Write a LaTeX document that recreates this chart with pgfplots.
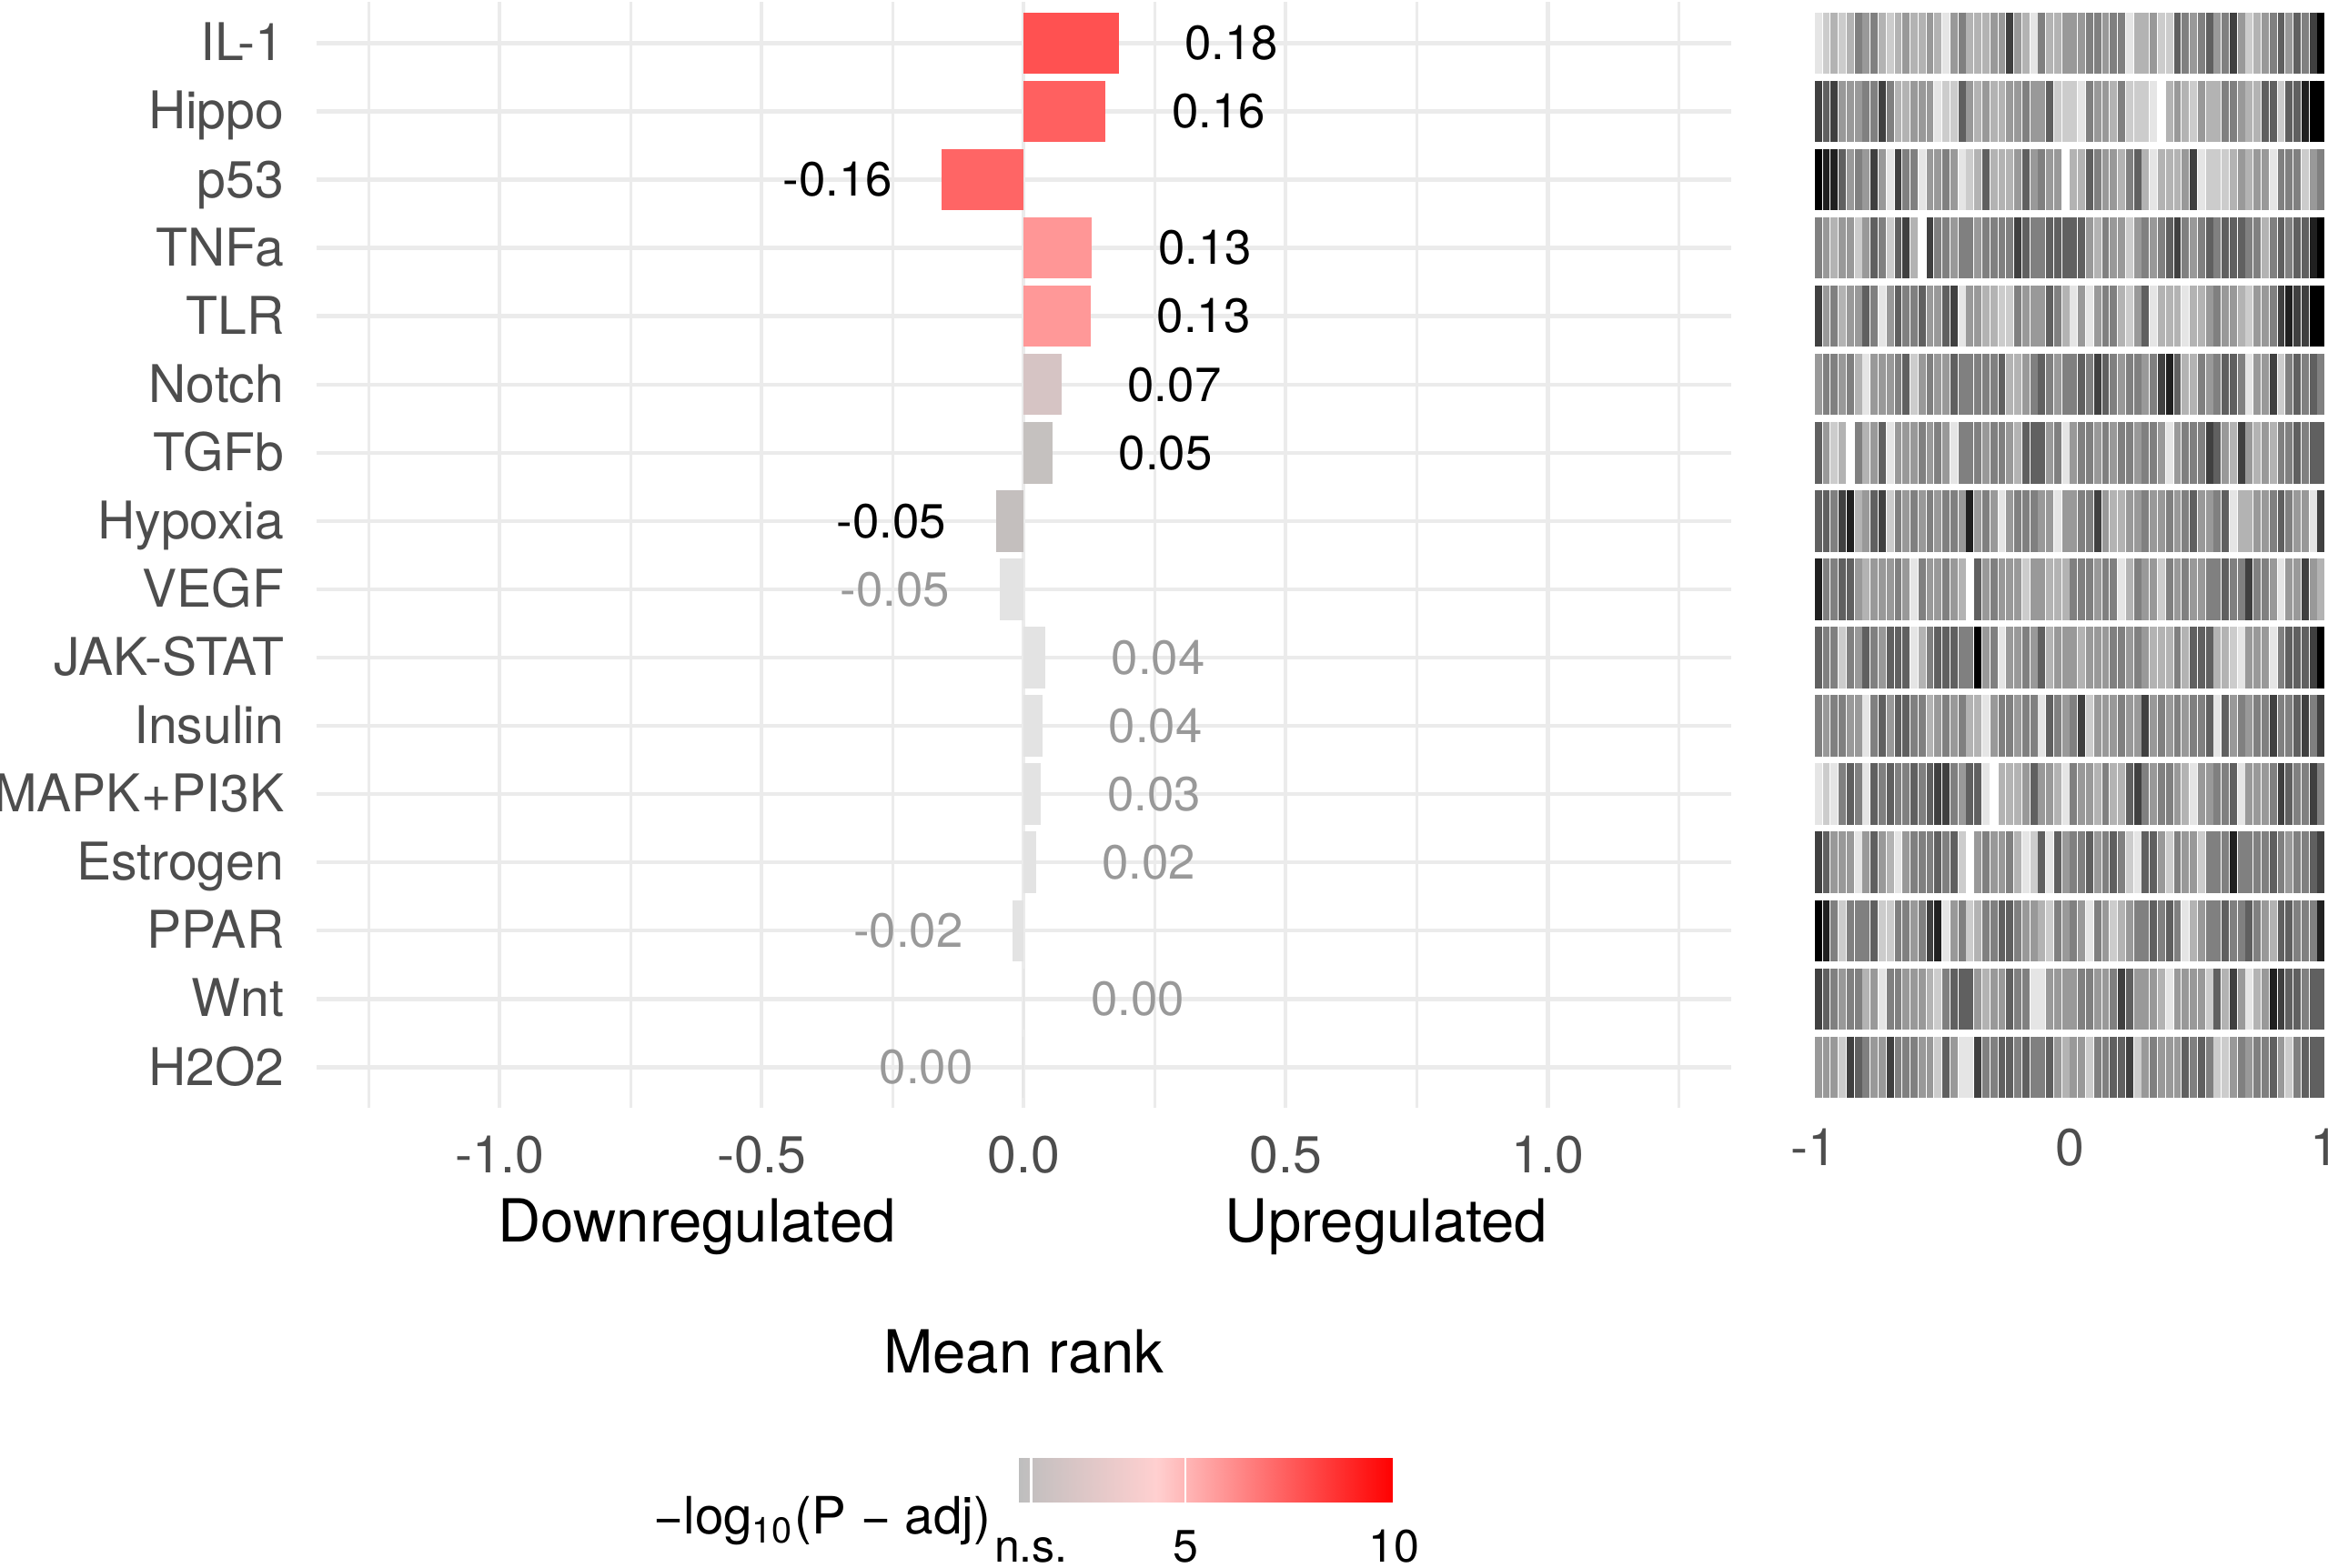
\documentclass[border=0pt]{standalone}
\usepackage{fontspec}
\setmainfont{TeX Gyre Heros}
\usepackage{pgfplots}
\usepackage{pgfplotstable}
\pgfplotsset{compat=1.18}
\usetikzlibrary{plotmarks}

\definecolor{gridc}{HTML}{EBEBEB}
\definecolor{tickc}{HTML}{4D4D4D}
\definecolor{nsc}{HTML}{999999}
\definecolor{cIL}{HTML}{FF5151}
\definecolor{cHi}{HTML}{FF6060}
\definecolor{cP}{HTML}{FF6565}
\definecolor{cTN}{HTML}{FF9696}
\definecolor{cTL}{HTML}{FF9898}
\definecolor{cNo}{HTML}{D6C4C4}
\definecolor{cTG}{HTML}{C5C1BF}
\definecolor{cHy}{HTML}{C4BFBE}
\definecolor{cns}{HTML}{E3E3E3}

\newcommand{\tickfont}{\fontsize{10.5pt}{12pt}\selectfont}
\newcommand{\labfont}{\fontsize{9.7pt}{11pt}\selectfont}
\newcommand{\bigfont}{\fontsize{12pt}{14pt}\selectfont}
\newcommand{\legfont}{\fontsize{10.4pt}{12pt}\selectfont}
\newcommand{\cbfont}{\fontsize{9.2pt}{11pt}\selectfont}

\pgfplotsset{
  posbar/.style={xbar, bar width=0.9, bar shift=0pt, draw=none, fill=#1,
    point meta=explicit symbolic, nodes near coords,
    nodes near coords style={anchor=west, inner sep=0pt, xshift=13.2pt, font=\labfont, text=black}},
  negbar/.style={xbar, bar width=0.9, bar shift=0pt, draw=none, fill=#1,
    point meta=explicit symbolic, nodes near coords,
    nodes near coords style={anchor=east, inner sep=0pt, xshift=-9.85pt, font=\labfont, text=black}},
  ns/.style={nodes near coords style={text=nsc}},
  barcode/.style={scatter, only marks, mark=|, mark size=6.21pt, point meta=explicit,
    scatter/use mapped color={draw=mapped color, fill=mapped color},
    mark options={line width=1.45pt}},
}

\pgfplotstableread{
name t1 t2 t3 t4 t5 t6 t7 t8 t9 t10 t11 t12 t13 t14 t15 t16 t17 t18 t19 t20 t21 t22 t23 t24 t25 t26 t27 t28 t29 t30 t31 t32 t33 t34 t35 t36 t37 t38 t39 t40 t41 t42 t43 t44 t45 t46 t47 t48 t49 t50 t51 t52 t53 t54 t55 t56 t57 t58 t59 t60 t61 t62 t63 t64
x -0.9844 -0.9531 -0.9219 -0.8906 -0.8594 -0.8281 -0.7969 -0.7656 -0.7344 -0.7031 -0.6719 -0.6406 -0.6094 -0.5781 -0.5469 -0.5156 -0.4844 -0.4531 -0.4219 -0.3906 -0.3594 -0.3281 -0.2969 -0.2656 -0.2344 -0.2031 -0.1719 -0.1406 -0.1094 -0.0781 -0.0469 -0.0156 0.0156 0.0469 0.0781 0.1094 0.1406 0.1719 0.2031 0.2344 0.2656 0.2969 0.3281 0.3594 0.3906 0.4219 0.4531 0.4844 0.5156 0.5469 0.5781 0.6094 0.6406 0.6719 0.7031 0.7344 0.7656 0.7969 0.8281 0.8594 0.8906 0.9219 0.9531 0.9844
c1 1 2 3 2 3 5 4 5 3 2 3 4 3 3 4 3 1 4 5 3 3 3 4 4 7 4 3 1 5 3 3 4 4 4 5 5 4 5 5 1 3 3 4 2 2 6 5 4 5 6 4 5 7 4 2 3 4 5 6 4 6 5 7 9
c2 7 6 7 4 4 4 5 5 7 5 3 3 4 4 4 1 2 2 6 4 3 4 3 3 4 4 5 4 4 6 2 2 2 1 5 4 4 3 5 2 2 2 1 0 3 4 3 2 4 3 3 5 5 4 3 3 6 6 2 6 6 8 9 9
c3 9 8 8 6 4 5 4 7 4 1 7 5 5 1 4 4 5 4 1 2 3 6 3 3 3 4 6 4 5 4 4 0 3 3 6 5 4 4 3 5 6 3 1 3 3 3 4 7 1 2 2 2 3 4 3 4 4 1 5 5 5 2 4 5
c4 5 4 3 4 4 2 4 6 5 2 6 7 3 0 7 5 5 4 5 5 4 5 5 5 5 7 6 5 5 6 6 6 6 6 4 3 5 4 4 2 4 5 4 5 6 7 5 4 5 6 5 6 6 6 5 5 3 5 6 5 6 6 8 9
c5 7 4 5 3 4 4 6 5 1 4 6 5 5 6 4 4 6 7 1 4 4 3 3 2 2 5 4 4 4 6 5 3 1 4 1 4 5 5 3 2 4 6 1 3 3 3 1 3 3 4 5 4 4 3 2 4 4 5 7 8 7 7 9 9
c6 4 5 5 4 5 3 1 4 4 4 5 6 2 4 5 4 4 6 5 5 5 5 5 6 3 3 4 5 6 5 4 5 5 6 5 7 6 5 4 5 5 4 5 7 8 6 3 3 5 4 5 6 6 5 1 4 4 7 2 5 6 5 6 5
c7 6 4 2 3 0 5 3 4 6 1 4 4 4 5 4 5 4 1 5 5 5 4 5 5 4 3 6 6 6 4 5 1 4 5 5 4 5 4 5 5 4 5 5 4 1 4 5 5 5 7 6 4 3 7 4 3 4 3 5 5 6 5 6 6
c8 6 6 5 7 8 3 4 6 7 2 5 4 5 4 5 4 5 5 4 8 4 5 4 1 4 5 5 5 4 4 1 4 4 5 5 7 4 3 3 4 4 5 4 4 5 4 5 6 4 4 5 6 1 3 3 4 4 5 6 5 4 4 1 7
c9 8 5 5 6 6 4 3 4 4 4 5 4 1 5 4 4 5 4 3 0 6 4 5 4 4 4 2 4 4 3 3 3 5 5 5 4 5 5 1 3 5 4 4 2 5 4 5 4 4 5 5 6 5 5 7 5 5 4 1 4 4 7 4 3
c10 6 5 5 2 5 4 6 5 4 6 6 6 1 3 5 6 6 6 5 5 9 4 5 1 4 4 5 4 6 3 4 4 4 3 4 4 4 5 5 4 5 4 3 3 3 5 3 6 6 6 3 3 2 1 4 4 4 1 5 6 6 6 7 9
c11 5 4 5 5 4 4 1 5 6 4 6 6 5 5 3 4 5 4 5 3 3 1 4 5 5 4 5 5 1 6 5 4 5 7 2 4 4 4 5 4 4 7 4 5 4 5 4 5 5 6 1 6 4 5 4 5 5 7 5 5 6 7 5 7
c12 1 2 1 5 6 5 1 6 5 6 5 5 6 5 6 7 7 5 4 6 6 1 0 3 3 3 4 6 4 4 3 1 5 4 4 3 5 3 3 6 7 5 4 5 5 4 3 1 4 4 5 5 6 1 4 4 4 5 7 6 5 5 7 5
c13 7 6 4 4 4 1 4 6 4 3 1 4 5 5 5 6 5 6 2 0 4 5 4 4 5 3 1 2 6 1 6 4 5 5 6 4 5 6 5 2 1 6 6 4 2 5 4 4 2 5 5 5 8 5 5 5 5 6 5 4 5 5 6 7
c14 9 8 5 2 5 5 5 6 2 2 5 5 4 5 7 8 1 4 5 2 3 5 5 6 6 5 4 4 3 2 5 4 5 4 1 5 4 2 3 4 5 5 6 5 6 5 1 3 4 5 5 6 5 5 6 5 4 3 6 6 5 5 5 8
c15 7 6 5 4 5 5 3 4 1 5 5 4 4 4 3 2 5 6 6 6 4 3 4 4 6 5 5 1 1 4 4 4 4 5 5 4 4 5 7 6 4 4 4 3 1 4 4 4 4 2 6 3 7 4 1 3 4 8 7 6 6 5 6 6
c16 4 4 4 2 7 6 5 4 4 7 5 5 5 4 4 2 6 4 1 1 7 5 5 6 6 5 6 5 5 6 4 3 4 4 2 5 5 6 6 7 2 4 5 4 4 4 6 5 6 5 2 2 4 5 4 5 5 6 4 2 5 6 6 6
}\rawbar
\pgfplotstabletranspose[colnames from=name]{\bartab}{\rawbar}

\begin{document}
\begin{tikzpicture}
\useasboundingbox (-63.9pt,-92.76pt) rectangle (406.5pt,223.98pt);

% ---------------- left panel: mean rank bars ----------------
\begin{axis}[
  at={(0pt,0pt)}, anchor=south west, scale only axis,
  width=285.9pt, height=223.56pt,
  xmin=-1.35, xmax=1.35, ymin=0.4, ymax=16.6,
  axis line style={draw=none},
  major tick length=0pt, minor tick length=0pt,
  xtick={-1,-0.5,0,0.5,1}, xticklabels={-1.0,-0.5,0.0,0.5,1.0},
  minor xtick={-1.25,-0.75,-0.25,0.25,0.75,1.25},
  ytick={1,...,16},
  yticklabels={H2O2,Wnt,PPAR,Estrogen,MAPK+PI3K,Insulin,JAK-STAT,VEGF,Hypoxia,TGFb,Notch,TLR,TNFa,p53,Hippo,IL-1},
  xmajorgrids, xminorgrids, ymajorgrids,
  major grid style={gridc, line width=0.8pt},
  minor grid style={gridc, line width=0.6pt},
  xticklabel style={anchor=base, inner sep=0pt, yshift=-13pt, font=\tickfont, text=tickc},
  yticklabel style={anchor=base east, inner sep=0pt, xshift=-6.3pt, yshift=-3.6pt, font=\tickfont, text=tickc},
  clip=false,
]
\addplot[posbar=cIL] coordinates {(0.181,16) [0.18]};
\addplot[posbar=cHi] coordinates {(0.156,15) [0.16]};
\addplot[negbar=cP]  coordinates {(-0.156,14) [-0.16]};
\addplot[posbar=cTN] coordinates {(0.130,13) [0.13]};
\addplot[posbar=cTL] coordinates {(0.128,12) [0.13]};
\addplot[posbar=cNo] coordinates {(0.072,11) [0.07]};
\addplot[posbar=cTG] coordinates {(0.055,10) [0.05]};
\addplot[negbar=cHy] coordinates {(-0.053,9) [-0.05]};
\addplot[negbar=cns, ns] coordinates {(-0.046,8) [-0.05]};
\addplot[posbar=cns, ns] coordinates {(0.041,7) [0.04]};
\addplot[posbar=cns, ns] coordinates {(0.036,6) [0.04]};
\addplot[posbar=cns, ns] coordinates {(0.033,5) [0.03]};
\addplot[posbar=cns, ns] coordinates {(0.023,4) [0.02]};
\addplot[negbar=cns, ns] coordinates {(-0.021,3) [-0.02]};
\addplot[posbar=cns, ns] coordinates {(0.002,2) [0.00]};
\addplot[negbar=cns, ns] coordinates {(-0.002,1) [0.00]};
\end{axis}

% ---------------- right panel: barcodes ----------------
\begin{axis}[
  at={(302.7pt,0pt)}, anchor=south west, scale only axis,
  width=103.2pt, height=223.56pt,
  xmin=-1, xmax=1, ymin=0.4, ymax=16.6,
  axis line style={draw=none}, major tick length=0pt,
  xtick={-1,0,1}, xticklabels={-1,0,1}, ytick=\empty,
  xticklabel style={anchor=base, inner sep=0pt, yshift=-11.5pt, font=\tickfont, text=tickc},
  colormap={bw}{gray(0cm)=(1) gray(1cm)=(0.9) gray(5cm)=(0.5) gray(9cm)=(0)},
  point meta min=0, point meta max=9,
  clip=false,
]
\addplot[barcode] table[x=x, y expr=16, meta=c1] {\bartab};
\addplot[barcode] table[x=x, y expr=15, meta=c2] {\bartab};
\addplot[barcode] table[x=x, y expr=14, meta=c3] {\bartab};
\addplot[barcode] table[x=x, y expr=13, meta=c4] {\bartab};
\addplot[barcode] table[x=x, y expr=12, meta=c5] {\bartab};
\addplot[barcode] table[x=x, y expr=11, meta=c6] {\bartab};
\addplot[barcode] table[x=x, y expr=10, meta=c7] {\bartab};
\addplot[barcode] table[x=x, y expr=9, meta=c8] {\bartab};
\addplot[barcode] table[x=x, y expr=8, meta=c9] {\bartab};
\addplot[barcode] table[x=x, y expr=7, meta=c10] {\bartab};
\addplot[barcode] table[x=x, y expr=6, meta=c11] {\bartab};
\addplot[barcode] table[x=x, y expr=5, meta=c12] {\bartab};
\addplot[barcode] table[x=x, y expr=4, meta=c13] {\bartab};
\addplot[barcode] table[x=x, y expr=3, meta=c14] {\bartab};
\addplot[barcode] table[x=x, y expr=2, meta=c15] {\bartab};
\addplot[barcode] table[x=x, y expr=1, meta=c16] {\bartab};
\end{axis}

% ---------------- colour bar ----------------
\begin{axis}[
  at={(141.9pt,-79.6pt)}, anchor=south west, scale only axis,
  width=75.9pt, height=9pt,
  xmin=1, xmax=10, ymin=0, ymax=1,
  axis line style={draw=none}, ytick=\empty,
  xtick={1.3,5,10}, xticklabels={n.s.,5,10},
  major tick length=9pt, xtick style={white, line width=0.45pt},
  axis on top,
  xticklabel style={anchor=base, inner sep=0pt, yshift=-12.2pt, font=\cbfont, text=black},
  colormap={pv}{rgb255(0cm)=(190,190,190) rgb255(3.3cm)=(255,208,208) rgb255(9cm)=(255,0,0)},
  point meta min=1, point meta max=10,
]
\addplot[surf, shader=interp, point meta=x, mesh/rows=2] coordinates {(1,0) (4.3,0) (10,0) (1,1) (4.3,1) (10,1)};
\end{axis}

\node[anchor=base west, inner sep=0pt, font=\bigfont] at (36.6pt,-27pt) {Downregulated};
\node[anchor=base east, inner sep=0pt, font=\bigfont] at (249pt,-27pt) {Upregulated};
\node[anchor=base, inner sep=0pt, font=\bigfont] at (142.95pt,-53.5pt) {Mean rank};
\node[anchor=base east, inner sep=0pt, font=\legfont] at (136.5pt,-86.1pt) {−log\textsubscript{10}(P − adj)};
\end{tikzpicture}
\end{document}
